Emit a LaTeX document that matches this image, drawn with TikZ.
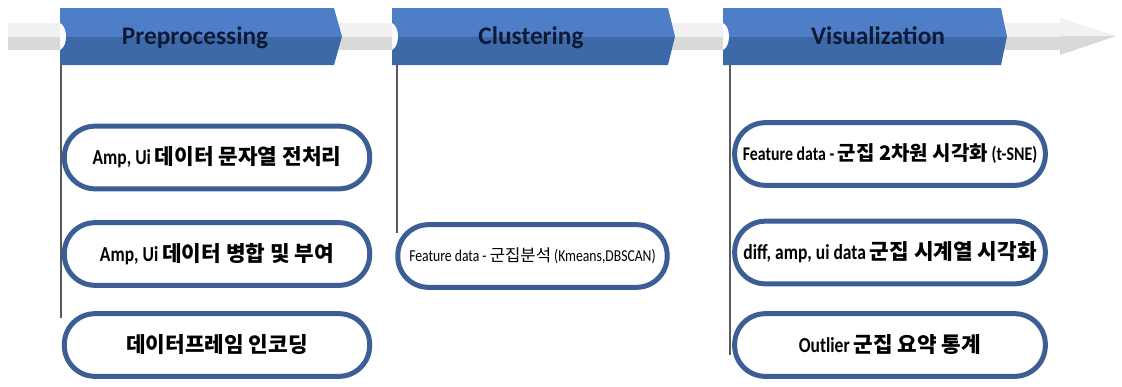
\documentclass[tikz,border=0pt]{standalone}
\usepackage{fontspec}
\setmainfont{Carlito}
\newfontfamily\narrowfont[FakeStretch=0.82]{Carlito}
\newfontfamily\kofont{Noto Sans CJK KR}
\newcommand\ko[1]{{\kofont #1}}

\definecolor{stagetop}{HTML}{4E7EC8}
\definecolor{stagebot}{HTML}{3D69A9}
\definecolor{stageink}{HTML}{0E1A36}
\definecolor{taskblue}{HTML}{3B5F94}
\definecolor{bandlight}{HTML}{F1F1F1}
\definecolor{banddark}{HTML}{D9D9D9}

% two tone fill of the stage chevrons
\pgfdeclareverticalshading{stageshade}{100bp}{%
  color(0bp)=(stagebot); color(50bp)=(stagebot);
  color(50bp)=(stagetop); color(100bp)=(stagetop)}

\tikzset{
  plstage/.style={shading=stageshade},
  pltitle/.style={anchor=base, inner sep=0pt, text=stageink,
    font=\bfseries\fontsize{19}{21}\selectfont},
  pltask/.style={draw=taskblue, line width=3.75pt, fill=white,
    rounded corners=23pt, minimum width=229pt, minimum height=47pt,
    inner sep=0pt, font=\narrowfont\bfseries\fontsize{16}{18}\selectfont},
  plrule/.style={draw=black!65, line width=0.8pt},
  plbump/.style={fill=white!92!banddark},
}

\begin{document}
\begin{tikzpicture}[x=0.75pt, y=0.75pt]
  \useasboundingbox[fill=white] (0,0) rectangle (1122,-386);

  % gray timeline behind the stages
  \fill[bandlight] (8,-23) rectangle (1060,-37);
  \fill[banddark] (8,-37) rectangle (1060,-50);
  \fill[bandlight] (1060,-18) -- (1116,-36) -- (1060,-36) -- cycle;
  \fill[banddark] (1060,-36) -- (1116,-36) -- (1060,-55) -- cycle;

  % stage chevrons
  \shade[plstage] (60,-8) -- (334,-8) -- (342,-36.5) -- (334,-65) -- (60,-65) -- cycle;
  \shade[plstage] (392,-8) -- (668,-8) -- (675,-36.5) -- (668,-65) -- (392,-65) -- cycle;
  \shade[plstage] (723,-8) -- (1001,-8) -- (1007,-36.5) -- (1001,-65) -- (723,-65) -- cycle;
  \fill[plbump] (60,-23) .. controls (68,-27) and (68,-46) .. (60,-50) -- cycle;
  \fill[plbump] (392,-23) .. controls (400,-27) and (400,-46) .. (392,-50) -- cycle;
  \fill[plbump] (723,-23) .. controls (731,-27) and (731,-46) .. (723,-50) -- cycle;

  \node[pltitle] (pre) at (195,-44) {Preprocessing};
  \node[pltitle] (clu) at (531,-44) {Clustering};
  \node[pltitle] (vis) at (878,-44) {Visualization};

  % hanging rules under each stage
  \coordinate (pre top) at (61,-65);
  \coordinate (pre end) at (61,-318);
  \coordinate (clu top) at (397,-65);
  \coordinate (clu end) at (397,-233);
  \coordinate (vis top) at (730,-65);
  \coordinate (vis end) at (730,-355);
  \draw[plrule] (pre top) -- (pre end);
  \draw[plrule] (clu top) -- (clu end);
  \draw[plrule] (vis top) -- (vis end);

  % preprocessing steps
  \node[pltask] (strclean) at (217,-157.5) {Amp, Ui \ko{데이터 문자열 전처리}};
  \node[pltask] (merge) at (217,-254) {Amp, Ui \ko{데이터 병합 및 부여}};
  \node[pltask] (encode) at (217,-345) {\ko{데이터프레임 인코딩}};

  % clustering step
  \node[pltask, minimum width=202pt, font=\narrowfont\fontsize{12.5}{15}\selectfont]
    (kmeans) at (532.5,-256) {Feature data - \ko{군집분석} (Kmeans,DBSCAN)};

  % visualization steps
  \node[pltask, minimum width=233pt, font=\narrowfont\bfseries\fontsize{14.5}{17}\selectfont]
    (tsne) at (890,-154) {Feature data - \ko{\fontsize{15}{17}\selectfont 군집 2차원 시각화} (t-SNE)};
  \node[pltask, minimum width=233pt] (series) at (890,-252.5)
    {diff, amp, ui data \ko{군집 시계열 시각화}};
  \node[pltask, minimum width=233pt] (outlier) at (890,-345)
    {Outlier \ko{군집 요약 통계}};
\end{tikzpicture}
\end{document}
